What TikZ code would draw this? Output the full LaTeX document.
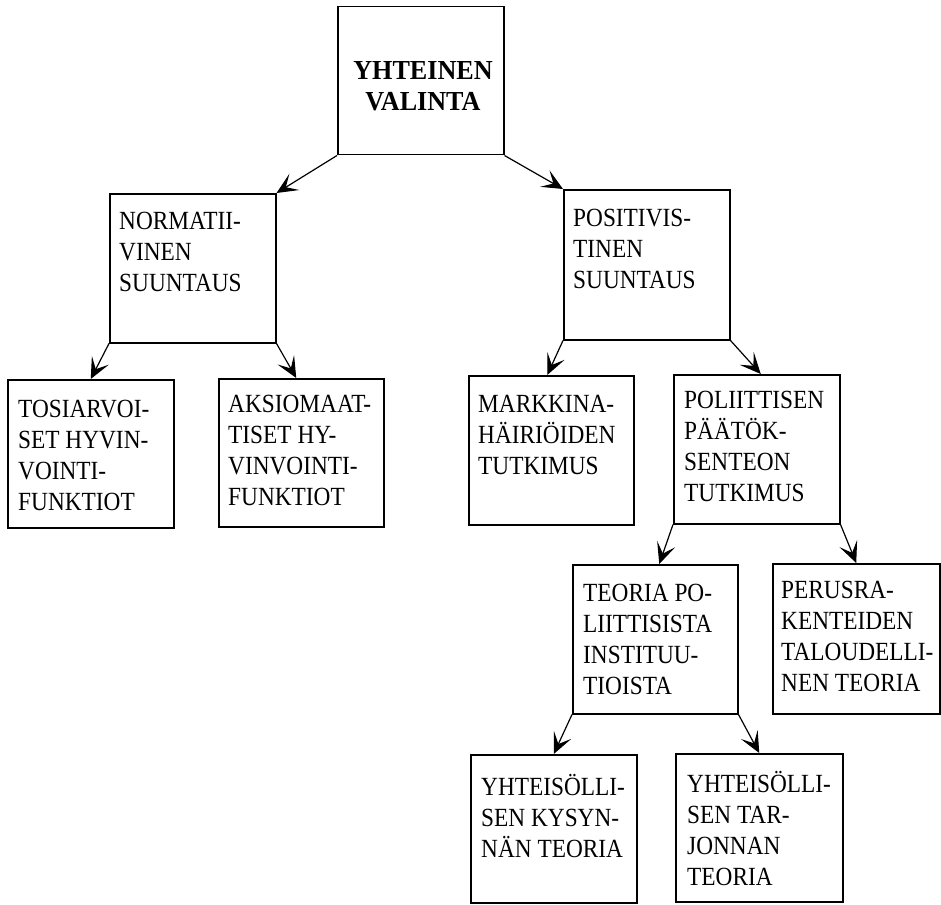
\documentclass[tikz,border=0pt]{standalone}
\usepackage{fontspec}
\setmainfont{Liberation Serif}
\newfontfamily\boxfont[FakeStretch=0.89]{Liberation Serif}
\newfontfamily\titlefont[FakeStretch=0.95]{Liberation Serif}
\usetikzlibrary{arrows.meta}
\begin{document}
\begin{tikzpicture}[x=1pt,y=-1pt,
  box/.style={draw, line width=1.5pt, inner sep=0pt, anchor=north west},
  lbl/.style={anchor=base west, inner sep=0pt, font=\boxfont\fontsize{26.2}{31.2}\selectfont},
  ttl/.style={anchor=base, inner sep=0pt, font=\titlefont\bfseries\fontsize{27.5}{31}\selectfont},
  link/.style={line width=1.2pt, -{Stealth[length=21pt,width=19pt,inset=10pt]}}]
\fill[white] (0,0) rectangle (941,904);
\useasboundingbox (0,0) rectangle (941,904);

% frames: name, left, top, width, height
\newcommand\frameat[5]{\node[box, minimum width=#4, minimum height=#5] (#1) at (#2,#3) {};}
\frameat{top}{337}{6}{166}{148}
\frameat{norm}{109}{193}{166}{149}
\frameat{posi}{563}{189}{166}{150}
\frameat{tosi}{7}{379}{166}{148}
\frameat{aksi}{218}{378}{165}{148}
\frameat{mark}{468}{375}{165}{149}
\frameat{poli}{673}{374}{166}{149}
\frameat{teor}{572}{564}{165}{149}
\frameat{peru}{772}{563}{167}{150}
\frameat{kysy}{470}{754}{166}{148}
\frameat{tarj}{675}{753}{167}{148}

% texts, placed by the baseline of their first line
\node[ttl] (topT) at (423,80) {\parbox[t]{170pt}{\centering YHTEINEN\\VALINTA}};
\node[lbl] (normT) at (119,229) {\parbox[t]{200pt}{NORMATII-\\VINEN\\SUUNTAUS}};
\node[lbl] (posiT) at (573,226) {\parbox[t]{200pt}{POSITIVIS-\\TINEN\\SUUNTAUS}};
\node[lbl] (tosiT) at (18,417) {\parbox[t]{200pt}{TOSIARVOI-\\SET HYVIN-\\VOINTI-\\FUNKTIOT}};
\node[lbl] (aksiT) at (228,412) {\parbox[t]{200pt}{AKSIOMAAT-\\TISET HY-\\VINVOINTI-\\FUNKTIOT}};
\node[lbl] (markT) at (478,412) {\parbox[t]{200pt}{MARKKINA-\\HÄIRIÖIDEN\\TUTKIMUS}};
\node[lbl] (poliT) at (684,408) {\parbox[t]{200pt}{POLIITTISEN\\PÄÄTÖK-\\SENTEON\\TUTKIMUS}};
\node[lbl] (teorT) at (583,601) {\parbox[t]{200pt}{TEORIA PO-\\LIITTISISTA\\INSTITUU-\\TIOISTA}};
\node[lbl] (peruT) at (781,598) {\parbox[t]{200pt}{PERUSRA-\\KENTEIDEN\\TALOUDELLI-\\NEN TEORIA}};
\node[lbl] (kysyT) at (481,795) {\parbox[t]{200pt}{YHTEISÖLLI-\\SEN KYSYN-\\NÄN TEORIA}};
\node[lbl] (tarjT) at (687,792) {\parbox[t]{200pt}{YHTEISÖLLI-\\SEN TAR-\\JONNAN\\TEORIA}};

% connectors
\draw[link] (top.south west) -- (norm.north east);
\draw[link] (top.south east) -- (posi.north west);
\draw[link] (norm.south west) -- (tosi.north);
\draw[link] (norm.south east) -- ([xshift=-5pt]aksi.north);
\draw[link] (posi.south west) -- ([xshift=-4pt]mark.north);
\draw[link] (posi.south east) -- ([xshift=4pt]poli.north);
\draw[link] (poli.south west) -- ([xshift=4pt]teor.north);
\draw[link] (poli.south east) -- (peru.north);
\draw[link] (teor.south west) -- (kysy.north);
\draw[link] (teor.south east) -- (tarj.north);
\end{tikzpicture}
\end{document}
